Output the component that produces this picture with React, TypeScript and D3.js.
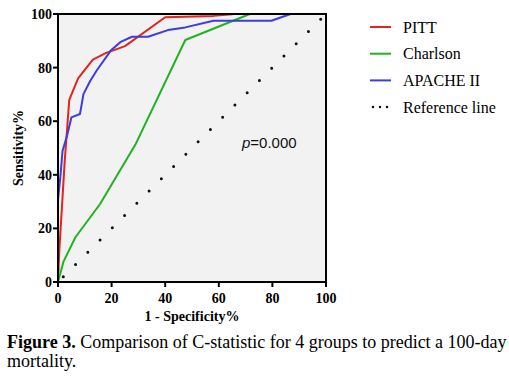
import React from "react";
import * as d3 from "d3";

const pittX = [0, 0.5, 2.5, 4.2, 7.5, 13, 18, 25, 40, 58, 66, 100];
const pittY = [0, 12, 45, 68, 76, 83, 85.5, 88, 98.8, 99.3, 100, 100];

const charlsonX = [0, 2, 6.5, 15.7, 29.1, 47.5, 71.6, 100];
const charlsonY = [0, 7.5, 16.7, 29.1, 51.7, 90.3, 100, 100];

const apacheX = [0, 0, 1, 1.7, 3.5, 5, 8.2, 9.5, 12, 14.5, 19.9, 23.4, 27.6, 33.6, 41, 47.5, 58, 79.6, 86.8, 100];
const apacheY = [0, 30.6, 40.5, 49, 55, 61.4, 62.7, 70.1, 75, 79, 86.6, 89.6, 91.5, 91.5, 94, 95, 97.5, 97.5, 100, 100];

const refX = [0, 100];
const refY = [0, 100];

const ticks = [0, 20, 40, 60, 80, 100];
const legendNames = ["PITT", "Charlson", "APACHE II", "Reference line"];
const colors = ["#e3231e", "#1fb41f", "#3c3ce4", "#111"];

export default function App() {
  const x = d3.scaleLinear().domain([0, 100]).range([58, 326]);
  const y = d3.scaleLinear().domain([0, 100]).range([282, 14]);
  const line = d3.line<[number, number]>().x((d) => x(d[0])).y((d) => y(d[1]));
  const zip = (a: number[], b: number[]) => a.map((v, i) => [v, b[i]] as [number, number]);
  const series = [zip(pittX, pittY), zip(charlsonX, charlsonY), zip(apacheX, apacheY)];
  const diag = Math.hypot(x(100) - x(0), y(0) - y(100));

  return (
    <svg width={509} height={382} style={{ position: "absolute", left: 0, top: 0, background: "#fff" }}>
      <rect x={x(0)} y={y(100)} width={x(100) - x(0)} height={y(0) - y(100)} fill="#f2f2f2" />
      <path
        d={line(zip(refX, refY)) || ""}
        fill="none"
        stroke="#111"
        strokeWidth={3}
        strokeLinecap="round"
        strokeDasharray={`0 ${(diag - 15) / 21}`}
        strokeDashoffset={-7.5}
      />
      {series.map((s, i) => (
        <path key={i} d={line(s) || ""} fill="none" stroke={colors[i]} strokeWidth={2} strokeLinejoin="round" />
      ))}
      <rect x={x(0)} y={y(100)} width={x(100) - x(0)} height={y(0) - y(100)} fill="none" stroke="#000" strokeWidth={2} />
      <g fontFamily="Liberation Serif" fontWeight="bold" fontSize={14} fill="#000">
        {ticks.map((t) => (
          <g key={"y" + t}>
            <line x1={x(0) - 5} x2={x(0)} y1={y(t)} y2={y(t)} stroke="#000" strokeWidth={2} />
            <text x={x(0) - 6} y={y(t)} dy="0.35em" textAnchor="end">{t}</text>
          </g>
        ))}
        {ticks.map((t) => (
          <g key={"x" + t}>
            <line x1={x(t)} x2={x(t)} y1={y(0)} y2={y(0) + 5} stroke="#000" strokeWidth={2} />
            <text x={x(t)} y={303} textAnchor="middle">{t}</text>
          </g>
        ))}
        <text x={192} y={321} textAnchor="middle">1 - Specificity%</text>
        <text transform="translate(23,148) rotate(-90)" textAnchor="middle">Sensitivity%</text>
      </g>
      <text x={242} y={148} fontFamily="Liberation Sans" fontSize={15} fill="#111">
        <tspan fontStyle="italic">p</tspan>=0.000
      </text>
      <g fontFamily="Liberation Serif" fontSize={16} fill="#000">
        {legendNames.map((n, i) => {
          const ly = 27 + i * 26.7;
          return (
            <g key={n}>
              {i < 3 ? (
                <line x1={370} x2={391} y1={ly} y2={ly} stroke={colors[i]} strokeWidth={2} />
              ) : (
                <line x1={373} x2={388} y1={ly} y2={ly} stroke="#111" strokeWidth={2.5} strokeLinecap="round" strokeDasharray="0 7" />
              )}
              <text x={403} y={ly} dy="0.35em">{n}</text>
            </g>
          );
        })}
      </g>
      <g fontFamily="Liberation Serif" fontSize={18} fill="#000">
        <text x={7} y={348}>
          <tspan fontWeight="bold">Figure 3.</tspan> Comparison of C-statistic for 4 groups to predict a 100-day
        </text>
        <text x={7} y={367}>mortality.</text>
      </g>
    </svg>
  );
}
